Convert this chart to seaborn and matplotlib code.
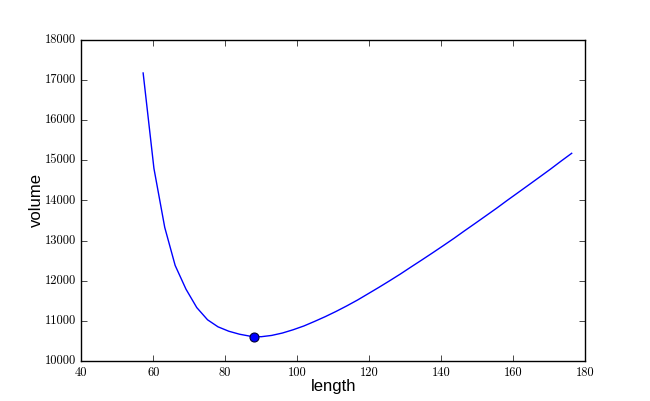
import numpy as np
import pandas as pd
import seaborn as sns
import matplotlib
matplotlib.use("Agg")
from matplotlib import pyplot as plt

# values
length = [57.2, 60.2, 63.2, 66.1, 69.1, 72.1, 75.1, 78.0, 81.0, 84.0,
          87.0, 90.0, 92.9, 95.9, 98.9, 101.9, 104.8, 107.8, 110.8, 113.8,
          116.8, 119.7, 122.7, 125.7, 128.7, 131.6, 134.6, 137.6, 140.6, 143.6,
          146.5, 149.5, 152.5, 155.5, 158.4, 161.4, 164.4, 167.4, 170.4, 173.3,
          176.3]
volume = [17180, 14800, 13330, 12380, 11790, 11330, 11025, 10850, 10740, 10665,
          10615, 10603, 10635, 10695, 10777, 10872, 10983, 11103, 11233, 11372,
          11519, 11673, 11833, 11998, 12167, 12339, 12514, 12692, 12873, 13057,
          13243, 13431, 13621, 13812, 14004, 14197, 14391, 14586, 14782, 14979,
          15177]
best_length = [88.1]
best_volume = [10598]

plt.style.use('classic')
fig = plt.figure(figsize=(6.5, 4.01), dpi=100)
ax = fig.add_subplot(111)

df = pd.DataFrame({"length": length, "volume": volume})
sns.lineplot(data=df, x="length", y="volume", color="b", linewidth=1.0,
             sort=False, ax=ax)
# the minimum
sns.scatterplot(x=best_length, y=best_volume, color="b", s=42,
                edgecolor="#000033", linewidth=0.8, zorder=3, ax=ax)

ax.set_xlim(40, 180)
ax.set_ylim(10000, 18000)
ax.set_xticks(range(40, 181, 20))
ax.set_yticks(range(10000, 18001, 1000))

ax.set_xlabel("length", fontsize=12, family="Liberation Sans", labelpad=0.5)
ax.set_ylabel("volume", fontsize=12, family="Liberation Sans", labelpad=0.5)

for lbl in ax.get_xticklabels() + ax.get_yticklabels():
    lbl.set_fontfamily("cmr10")
    lbl.set_fontsize(9)

fig.savefig("out.png", dpi=100)
